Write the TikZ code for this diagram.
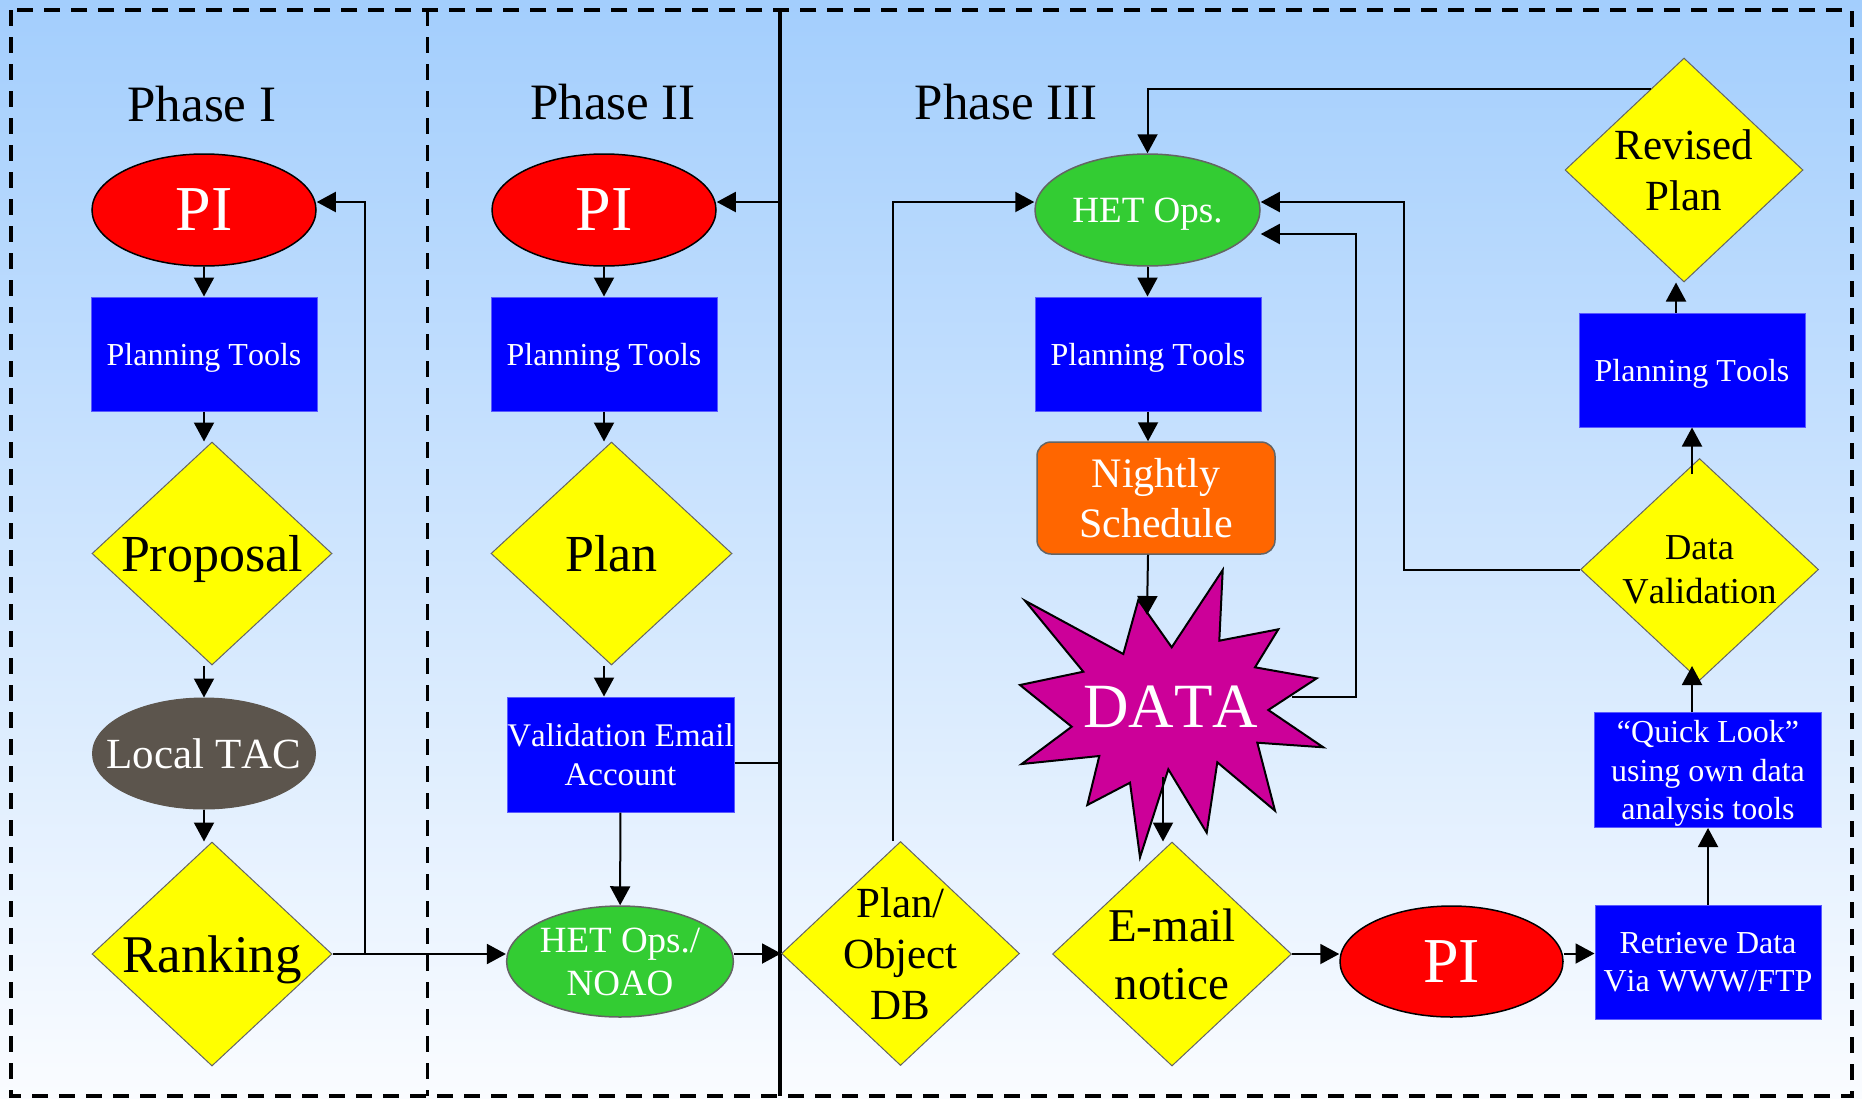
\documentclass[tikz,border=0pt]{standalone}
\usepackage{fontspec}
\setmainfont{Liberation Serif}[Kerning=Off]
\usetikzlibrary{shapes.geometric,arrows.meta,calc}
\definecolor{bgtop}{RGB}{163,206,253}
\definecolor{bgbot}{RGB}{250,252,255}
\definecolor{boxblue}{RGB}{0,0,255}
\definecolor{boxedge}{RGB}{90,90,255}
\definecolor{diayellow}{RGB}{255,255,0}
\definecolor{grayedge}{RGB}{100,100,100}
\definecolor{hetgreen}{RGB}{51,204,51}
\definecolor{tacgray}{RGB}{92,85,77}
\definecolor{nightorange}{RGB}{255,102,0}
\definecolor{starmag}{RGB}{204,0,153}
\newcommand{\fsz}[2]{\fontsize{#1pt}{#2pt}\selectfont}
\tikzset{
  conn/.style={line width=2pt, draw=black},
  arr/.style={conn, -{Triangle[length=19pt,width=20pt]}},
  border/.style={line width=3.5pt, dash pattern=on 16pt off 11pt},
  divider/.style={line width=3.5pt},
  title/.style={font=\fsz{51}{60}, inner sep=0pt, anchor=base},
  txt/.style={inner sep=0pt, align=center, text depth=0pt},
  box/.style={txt, rectangle, fill=boxblue, draw=boxedge, line width=1pt, text=white,
    minimum width=226pt, minimum height=114pt, font=\fsz{32}{38}},
  pinode/.style={txt, ellipse, fill=red, draw=black, line width=1.5pt, text=white,
    minimum width=224pt, minimum height=112pt, font=\fsz{64}{70}},
  hetnode/.style={txt, ellipse, fill=hetgreen, draw=grayedge, line width=1.5pt, text=white,
    minimum width=225pt, minimum height=112pt, font=\fsz{37}{43}},
  tacnode/.style={ellipse, fill=tacgray, draw=tacgray, line width=1pt, inner sep=0pt,
    minimum width=223pt, minimum height=111pt},
  nightnode/.style={txt, rectangle, rounded corners=14pt, fill=nightorange, draw=grayedge,
    line width=1.5pt, text=white, minimum width=238pt, minimum height=112pt, font=\fsz{42}{50}},
  dia/.style={diamond, fill=diayellow, draw=grayedge, line width=1pt, inner sep=0pt,
    minimum width=238pt, minimum height=224pt},
  diatext/.style={txt, text=black},
}
\begin{document}
\begin{tikzpicture}[x=1pt, y=-1pt]
\useasboundingbox (0,0) rectangle (1862,1098);
\shade[top color=bgtop, bottom color=bgbot] (0,0) rectangle (1862,1098);

% frame and dividers
\draw[border] (11,10) rectangle (1852,1096);
\draw[border] (427.5,10) -- (427.5,1096);
\coordinate (divT) at (780,10);
\coordinate (divB) at (780,1096);
\draw[divider] (divT) -- (divB);

% titles
\node[title] (t1) at (202,121) {Phase I};
\node[title] (t2) at (613,119) {Phase II};
\node[title] (t3) at (1006,119) {Phase III};

% Phase I
\node[pinode] (pi1) at (204,210) {PI};
\node[box] (pt1) at (204,354) {Planning Tools};
\node[dia, minimum width=240pt, minimum height=223pt] (prop) at (212,553.5) {};
\node[diatext, font=\fsz{52}{60}] (prop-t) at (prop) {Proposal};
\node[tacnode] (tac) at (204,753.5) {};
\node[txt, text=white, font=\fsz{43}{50}] (tac-t) at (tac) {Local TAC};
\node[dia, minimum width=240pt, minimum height=224pt] (rank) at (212,954) {};
\node[diatext, font=\fsz{53}{60}] (rank-t) at (rank) {Ranking};

% Phase II
\node[pinode] (pi2) at (604,210) {PI};
\node[box] (pt2) at (604,354) {Planning Tools};
\node[dia, minimum width=241pt, minimum height=223pt] (plan) at (611.5,553.5) {};
\node[diatext, font=\fsz{52}{60}] (plan-t) at (plan) {Plan};
\node[box, minimum width=227pt, minimum height=115pt, font=\fsz{33}{38.5}] (vem) at (620.5,754.5) {Validation Email\\Account};
\node[hetnode, minimum width=224pt, minimum height=111pt] (het2) at (620,961.5) {HET Ops./\\NOAO};

% Phase III
\node[dia] (pod) at (900.5,953.5) {};
\node[diatext, font=\fsz{43}{51}] (pod-t) at (pod) {Plan/\\Object\\DB};
\node[hetnode] (het3) at (1147.5,210) {HET Ops.};
\node[box] (pt3) at (1148,354) {Planning Tools};
\node[nightnode] (night) at (1156,498) {Nightly\\Schedule};

% DATA star
\filldraw[fill=starmag, draw=black, line width=2pt, line join=miter]
  (1222.7,570) -- (1219.3,640.7) -- (1278.3,629.3) -- (1255,667.3) -- (1316.7,678.3)
  -- (1268.3,710) -- (1323.3,747.3) -- (1257.3,742.7) -- (1275,810.7) -- (1217.3,762.3)
  -- (1206.7,832.7) -- (1168.3,769.3) -- (1140,857.3) -- (1130,782.7) -- (1087.3,805)
  -- (1099.3,756) -- (1021.7,764) -- (1071.7,726.7) -- (1020,685) -- (1083.3,671.7)
  -- (1025,600.7) -- (1123.3,654) -- (1138.3,600) -- (1171.7,647.3) -- cycle;
\node[txt, text=white, font=\fsz{63}{70}] (data) at (1170.5,707) {DATA};
\coordinate (data-top) at (1147,615);
\coordinate (data-bot) at (1163,777);
\coordinate (data-right) at (1292,697);

\node[dia, minimum width=239pt] (email) at (1172,954) {};
\node[diatext, font=\fsz{47}{58.5}] (email-t) at (email) {E-mail\\notice};
\node[pinode, minimum width=223pt, minimum height=111pt] (pi3) at (1451.5,961.5) {PI};
\node[box] (ret) at (1708,962) {Retrieve Data\\Via WWW/FTP};
\node[box, minimum width=227pt, minimum height=115pt, font=\fsz{32}{38.3}] (ql) at (1708,770) {“Quick Look”\\using own data\\analysis tools};
\node[dia, minimum height=222pt] (dv) at (1699.5,569.5) {};
\node[diatext, font=\fsz{36.5}{43.5}] (dv-t) at (dv) {Data\\Validation};
\node[box] (pt4) at (1692,370) {Planning Tools};
\node[dia] (rev) at (1684,170) {};
\node[diatext, font=\fsz{43}{51.5}] (rev-t) at (rev) {Revised\\Plan};

% ---------- connectors ----------
% Phase I
\draw[arr] (pi1) -- (pt1);
\draw[arr] (pt1.south) -- (pt1.south |- prop.north);
\draw[arr] (tac.north |- prop.south) -- (tac.north);
\draw[arr] (tac.south) -- (tac.south |- rank.north);
\draw[arr] (rank.east) -- (rank.east -| het2.west);
\coordinate (p1in) at ($(pi1.east)+(0,-8)$);
\draw[arr] ($(rank.east)+(32,0)$) |- (p1in);

% Phase II
\draw[arr] (pi2) -- (pt2);
\draw[arr] (pt2.south) -- (pt2.south |- plan.north);
\draw[arr] (pt2.south |- plan.south) -- (pt2.south |- vem.north);
\draw[arr] (vem) -- (het2);
\coordinate (vemout) at ($(vem.east)+(0,8)$);
\draw[conn] (vemout) -- (vemout -| divT);
\coordinate (p2in) at ($(pi2.east)+(0,-8)$);
\draw[arr] (p2in -| divT) -- (p2in);
\coordinate (h2out) at ($(het2.east)+(0,-8)$);
\draw[arr] (h2out) -- (pod.west);

% Phase III
\coordinate (h3inL) at ($(het3.west)+(0,-8)$);
\draw[arr] ($(pod.north)+(-8,0)$) |- (h3inL);
\coordinate (revout) at ($(rev.north)!0.28!(rev.west)$);
\draw[arr] (revout) -| (het3.north);
\draw[arr] (het3.south) -- (het3.south |- pt3.north);
\draw[arr] (pt3.south) -- (pt3.south |- night.north);
\draw[arr] (pt3.south |- night.south) -- (data-top);
\draw[arr] (data-bot) -- (data-bot |- email.north);
\coordinate (h3inR2) at ($(het3.east)+(0,24)$);
\draw[arr] (data-right) -- ++(64,0) |- (h3inR2);
\coordinate (h3inR1) at ($(het3.east)+(0,-8)$);
\draw[arr] (dv.west) -- ++(-176,0) |- (h3inR1);
\draw[arr] (email.east) -- (email.east -| pi3.west);
\coordinate (p3out) at ($(pi3.east)+(0,-8)$);
\draw[arr] (p3out) -- (p3out -| ret.west);
\draw[arr] (ret.north) -- (ret.north |- ql.south);
\draw[arr] (ql.north -| pt4.south) -- ++(0,-46);
\draw[arr] ($(pt4.south |- dv.north)+(0,16)$) -- (pt4.south);
\draw[arr] ($(pt4.north)+(-16,0)$) -- ($(pt4.north |- rev.south)+(-16,0)$);
\end{tikzpicture}
\end{document}
